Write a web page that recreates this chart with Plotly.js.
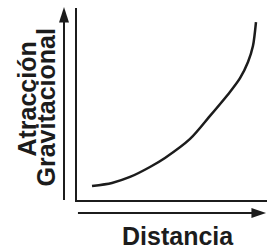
<!DOCTYPE html>
<html>
<head>
<meta charset="utf-8">
<script src="https://cdn.plot.ly/plotly-3.0.1.min.js"></script>
<style>html,body{margin:0;padding:0;background:#fff;}#chart{width:267px;height:252px;}</style>
</head>
<body>
<div id="chart"></div>
<script>
// Curve values (arbitrary units, axis range 0–10)
const distancia = [0.79, 1.84, 2.79, 3.84, 4.63, 5.95, 7.00, 8.05, 8.58, 9.00, 9.26, 9.42];
const atraccion = [0.73, 0.89, 1.20, 1.72, 2.19, 3.18, 4.38, 5.63, 6.35, 7.19, 8.02, 9.27];
const xLabel = "Distancia";
const yLabel1 = "Atracción";
const yLabel2 = "Gravitacional";

const ink = "#1c1c1c";
const font = {family: "Liberation Sans, Arial, sans-serif", size: 25, color: ink, weight: "bold"};

const trace = {
  x: distancia, y: atraccion, mode: "lines", type: "scatter",
  line: {color: ink, width: 2.5, shape: "spline", smoothing: 0.8},
  hoverinfo: "skip"
};

const layout = {
  width: 267, height: 252,
  margin: {l: 77, r: 0, t: 8, b: 52, pad: 0},
  paper_bgcolor: "#fff", plot_bgcolor: "#fff",
  showlegend: false,
  xaxis: {range: [0, 10], showline: true, linecolor: ink, linewidth: 2, showgrid: false,
          zeroline: false, showticklabels: false, ticks: ""},
  yaxis: {range: [0, 10], showline: true, linecolor: ink, linewidth: 2, showgrid: false,
          zeroline: false, showticklabels: false, ticks: ""},
  shapes: [
    // y arrow shaft + head
    {type: "line", xref: "paper", yref: "paper", x0: -0.0684, x1: -0.0684, y0: 0.0, y1: 0.94,
     line: {color: ink, width: 2}},
    {type: "path", xref: "paper", yref: "paper",
     path: "M -0.0947 0.925 L -0.0684 1.005 L -0.0421 0.925 Z", fillcolor: ink, line: {color: ink, width: 0}},
    // x arrow shaft + head
    {type: "line", xref: "paper", yref: "paper", x0: 0.005, x1: 0.93, y0: -0.0677, y1: -0.0677,
     line: {color: ink, width: 2}},
    {type: "path", xref: "paper", yref: "paper",
     path: "M 0.918 -0.0417 L 0.995 -0.0677 L 0.918 -0.0938 Z", fillcolor: ink, line: {color: ink, width: 0}}
  ],
  annotations: [
    {text: yLabel1, xref: "paper", yref: "paper", x: -0.263, y: 0.523, textangle: -90,
     showarrow: false, xanchor: "center", yanchor: "middle", font: font},
    {text: yLabel2, xref: "paper", yref: "paper", x: -0.163, y: 0.482, textangle: -90,
     showarrow: false, xanchor: "center", yanchor: "middle", font: font},
    {text: xLabel, xref: "paper", yref: "paper", x: 0.532, y: -0.2708,
     showarrow: false, xanchor: "center", yanchor: "bottom", font: font}
  ]
};

Plotly.newPlot("chart", [trace], layout, {staticPlot: true, displayModeBar: false});
</script>
</body>
</html>
